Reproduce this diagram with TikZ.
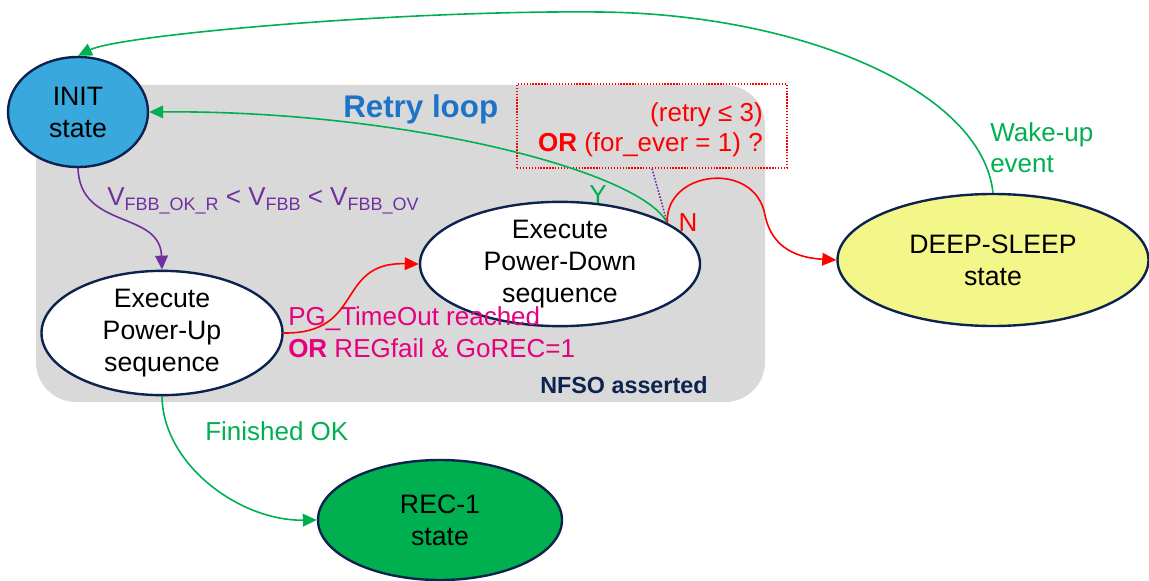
\documentclass[tikz,border=0pt]{standalone}
\usepackage{fontspec}
\setmainfont{Liberation Sans}
\usetikzlibrary{shapes.geometric,arrows.meta}
\definecolor{navy}{RGB}{12,35,80}
\definecolor{initblue}{RGB}{57,168,220}
\definecolor{dsyellow}{RGB}{243,247,138}
\definecolor{recgreen}{RGB}{0,176,80}
\definecolor{lgreen}{RGB}{0,176,80}
\definecolor{lpurple}{RGB}{112,48,160}
\definecolor{lred}{RGB}{255,0,0}
\definecolor{lmag}{RGB}{230,0,126}
\definecolor{loopgray}{RGB}{217,217,217}
\definecolor{retryblue}{RGB}{30,115,200}
\newcommand{\mysub}[1]{\raisebox{-3.9pt}{\fontsize{13.5}{13.5}\selectfont #1}}
\begin{document}
\begin{tikzpicture}[x=0.75pt,y=-0.75pt,
  stnode/.style={ellipse,draw=navy,line width=1.8pt,inner sep=0pt,align=center,
    font=\fontsize{20}{24}\selectfont},
  conn/.style={line width=1.2pt,-{Triangle[length=10.5pt,width=9.5pt]}},
  lbl/.style={inner sep=0pt,font=\fontsize{19.5}{23}\selectfont}]
\useasboundingbox (0,0) rectangle (1149,581);
% gray region
\fill[loopgray,rounded corners=30pt] (36,85) rectangle (765,402);
% nodes
\node[stnode,fill=initblue,minimum width=105pt,minimum height=82.5pt] (INIT) at (78,112) {INIT\\state};
\node[stnode,fill=white,minimum width=180.75pt,minimum height=82.5pt] (PU) at (162,333) {Execute\\Power-Up\\sequence};
\node[stnode,fill=white,minimum width=210pt,minimum height=81pt] (PD) at (560,264) {Execute\\Power-Down\\sequence};
\node[stnode,fill=dsyellow,minimum width=233.25pt,minimum height=99pt] (DS) at (993,260) {DEEP-SLEEP\\state};
\node[stnode,fill=recgreen,minimum width=183pt,minimum height=90pt] (REC) at (440,520) {REC-1\\state};
% condition box
\node[draw=lred,line width=1pt,dash pattern=on 1pt off 1.2pt,minimum width=202.5pt,minimum height=63pt,inner sep=0pt] (cond) at (652,126) {};
\node[lbl,text=lred,anchor=base east] (c1) at (763,122) {(retry ≤ 3)};
\node[lbl,text=lred,anchor=base east] (c2) at (763,152) {\textbf{OR} (for\_ever = 1) ?};
% labels
\node[inner sep=0pt,anchor=base west,text=retryblue,font=\fontsize{23.5}{27}\selectfont\bfseries] (retry) at (343,118) {Retry loop};
\node[inner sep=0pt,anchor=base west,text=navy,font=\fontsize{17.5}{21}\selectfont\bfseries] (nfso) at (540,393) {NFSO asserted};
\node[lbl,text=lpurple,anchor=base west] (vfbb) at (107,205) {V\mysub{FBB\_OK\_R} < V\mysub{FBB} < V\mysub{FBB\_OV}};
\node[lbl,text=lmag,anchor=base west] (pg1) at (288,325) {PG\_TimeOut reached};
\node[lbl,text=lmag,anchor=base west] (pg2) at (288,357) {\textbf{OR} REGfail \& GoREC=1};
\node[lbl,text=lgreen,anchor=base west] (fin) at (205,440) {Finished OK};
\node[lbl,text=lgreen,anchor=base west] (wk1) at (990,142) {Wake-up};
\node[lbl,text=lgreen,anchor=base west] (wk2) at (990,173) {event};
\node[lbl,text=lgreen] (ylbl) at (598,195) {Y};
\node[lbl,text=lred] (nlbl) at (688,223) {N};
% connectors
\draw[lpurple,line width=1.2pt,dash pattern=on 1.2pt off 1.2pt] (cond.south) -- (PD.21);
\draw[conn,lgreen] (DS.north) .. controls (982,90) and (800,14) .. (600,12) .. controls (400,10) and (120,35) .. (INIT.north);
\draw[conn,lgreen] (PD.21) .. controls (640,170) and (400,110) .. (INIT.east);
\draw[conn,lred] (PD.21) .. controls (665,170) and (755,160) .. (765,215) .. controls (772,250) and (800,258) .. (DS.west);
\draw[conn,lpurple] (INIT.south) .. controls (80,230) and (160,210) .. (PU.north);
\draw[conn,lred] (PU.east) .. controls (365,334) and (335,262) .. (PD.west);
\draw[conn,lgreen] (PU.south) .. controls (163,465) and (240,521) .. (REC.west);
\end{tikzpicture}
\end{document}
